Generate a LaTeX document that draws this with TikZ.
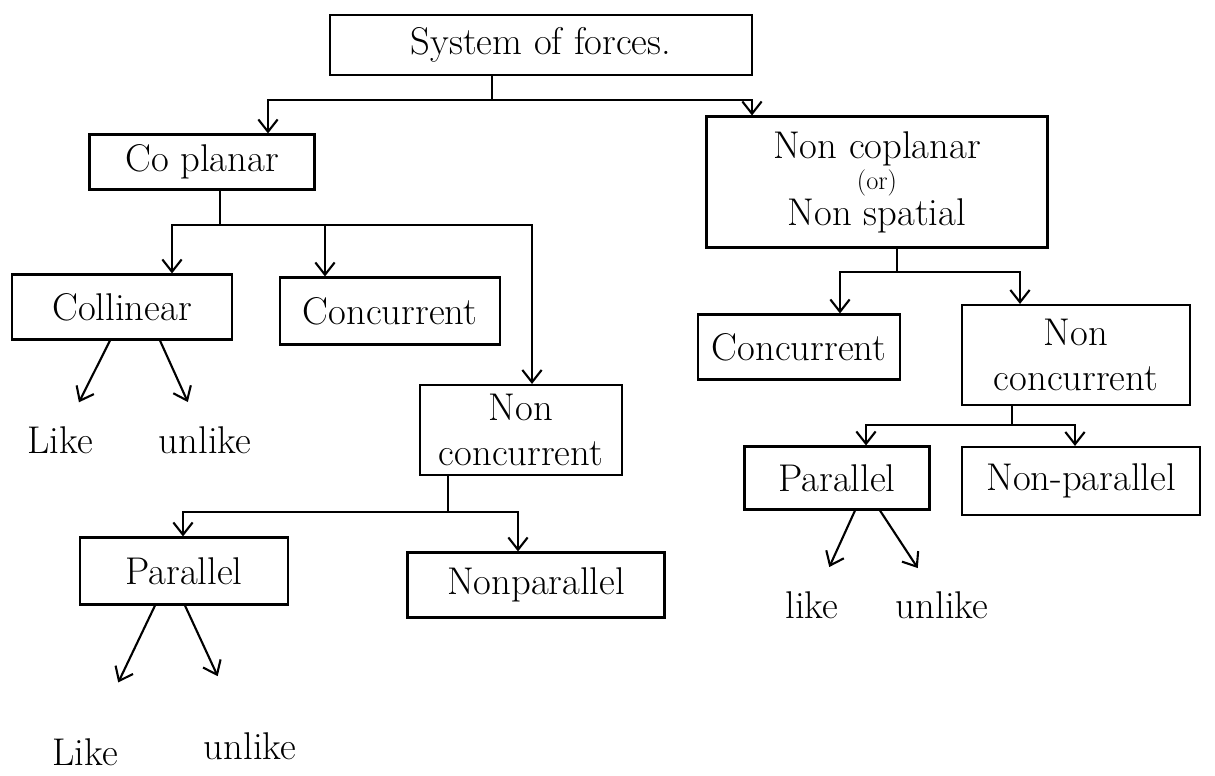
\documentclass[tikz,border=0pt]{standalone}
\usepackage{tikz}
\usetikzlibrary{arrows.meta}

\begin{document}
\begin{tikzpicture}[x=0.02cm,y=-0.02cm,line width=1.2pt,>={Straight Barb[length=7pt,width=11pt]},font=\fontsize{22}{26}\selectfont]
	\useasboundingbox (0,0) rectangle (1215,776);
	\begin{scope}[every node/.style={rectangle,draw,line width=1.2pt,inner sep=0pt,align=center}]
	\node[minimum width=8.44cm,minimum height=1.2cm] (sys) at (541,45) {System of forces.};
	\node[minimum width=4.5cm,minimum height=1.1cm] (cop) at (202,162) {Co planar};
	\node[minimum width=6.82cm,minimum height=2.62cm] (ncop) at (877,182) {Non coplanar\\[-8pt]{\fontsize{15}{15}\selectfont (or)}\\[-6pt]Non spatial};
	\node[minimum width=4.4cm,minimum height=1.3cm] (col) at (122,307) {Collinear};
	\node[minimum width=4.4cm,minimum height=1.34cm] (conc1) at (390,311) {Concurrent};
	\node[minimum width=4.04cm,minimum height=1.8cm] (nc1) at (521,430) {Non\\concurrent};
	\node[minimum width=4.16cm,minimum height=1.34cm] (par1) at (184,571) {Parallel};
	\node[minimum width=5.14cm,minimum height=1.3cm] (npar1) at (536,585) {Nonparallel};
	\node[minimum width=4.04cm,minimum height=1.3cm] (conc2) at (799,347) {Concurrent};
	\node[minimum width=4.56cm,minimum height=2cm] (nc2) at (1076,355) {Non\\concurrent};
	\node[minimum width=3.7cm,minimum height=1.26cm] (par2) at (837,478) {Parallel};
	\node[minimum width=4.76cm,minimum height=1.36cm] (npar2) at (1081,481) {Non-parallel};
	\end{scope}
	\node[inner sep=6pt] (like1) at (60,440) {Like};
	\node[inner sep=6pt] (unlike1) at (205,440) {unlike};
	\node[inner sep=6pt] (like2) at (85,752) {Like};
	\node[inner sep=6pt] (unlike2) at (250,746) {unlike};
	\node[inner sep=6pt] (like3) at (812,605) {like};
	\node[inner sep=6pt] (unlike3) at (942,605) {unlike};
	\coordinate (j1) at (492,100);
	\coordinate (j2) at (220,225);
	\coordinate (j3) at (448,512);
	\coordinate (j4) at (897,272);
	\coordinate (j5) at (1012,425);
	\draw (sys.south -| j1) -- (j1);
	\draw [->] (j1) -| (cop.north -| 268,0);
	\draw [->] (j1) -| (ncop.north -| 752,0);
	\draw (cop.south -| j2) -- (j2);
	\draw [->] (j2) -| (col.north -| 172,0);
	\draw [->] (j2) -| (conc1.north -| 325,0);
	\draw [->] (j2) -| (nc1.north -| 532,0);
	\draw (nc1.south -| j3) -- (j3);
	\draw [->] (j3) -| (par1.north -| 183,0);
	\draw [->] (j3) -| (npar1.north -| 518,0);
	\draw (ncop.south -| j4) -- (j4);
	\draw [->] (j4) -| (conc2.north -| 840,0);
	\draw [->] (j4) -| (nc2.north -| 1020,0);
	\draw (nc2.south -| j5) -- (j5);
	\draw [->] (j5) -| (par2.north -| 866,0);
	\draw [->] (j5) -| (npar2.north -| 1075,0);
	\draw [->,shorten >=8pt] (col.south -| 110,0) -- (like1);
	\draw [->,shorten >=8pt] (col.south -| 160,0) -- (unlike1);
	\draw [->,shorten >=28pt] (par1.south -| 155,0) -- (like2);
	\draw [->,shorten >=28pt] (par1.south -| 185,0) -- (unlike2);
	\draw [->,shorten >=8pt] (par2.south -| 855,0) -- (like3);
	\draw [->,shorten >=8pt] (par2.south -| 880,0) -- (unlike3);
\end{tikzpicture}
\end{document}
